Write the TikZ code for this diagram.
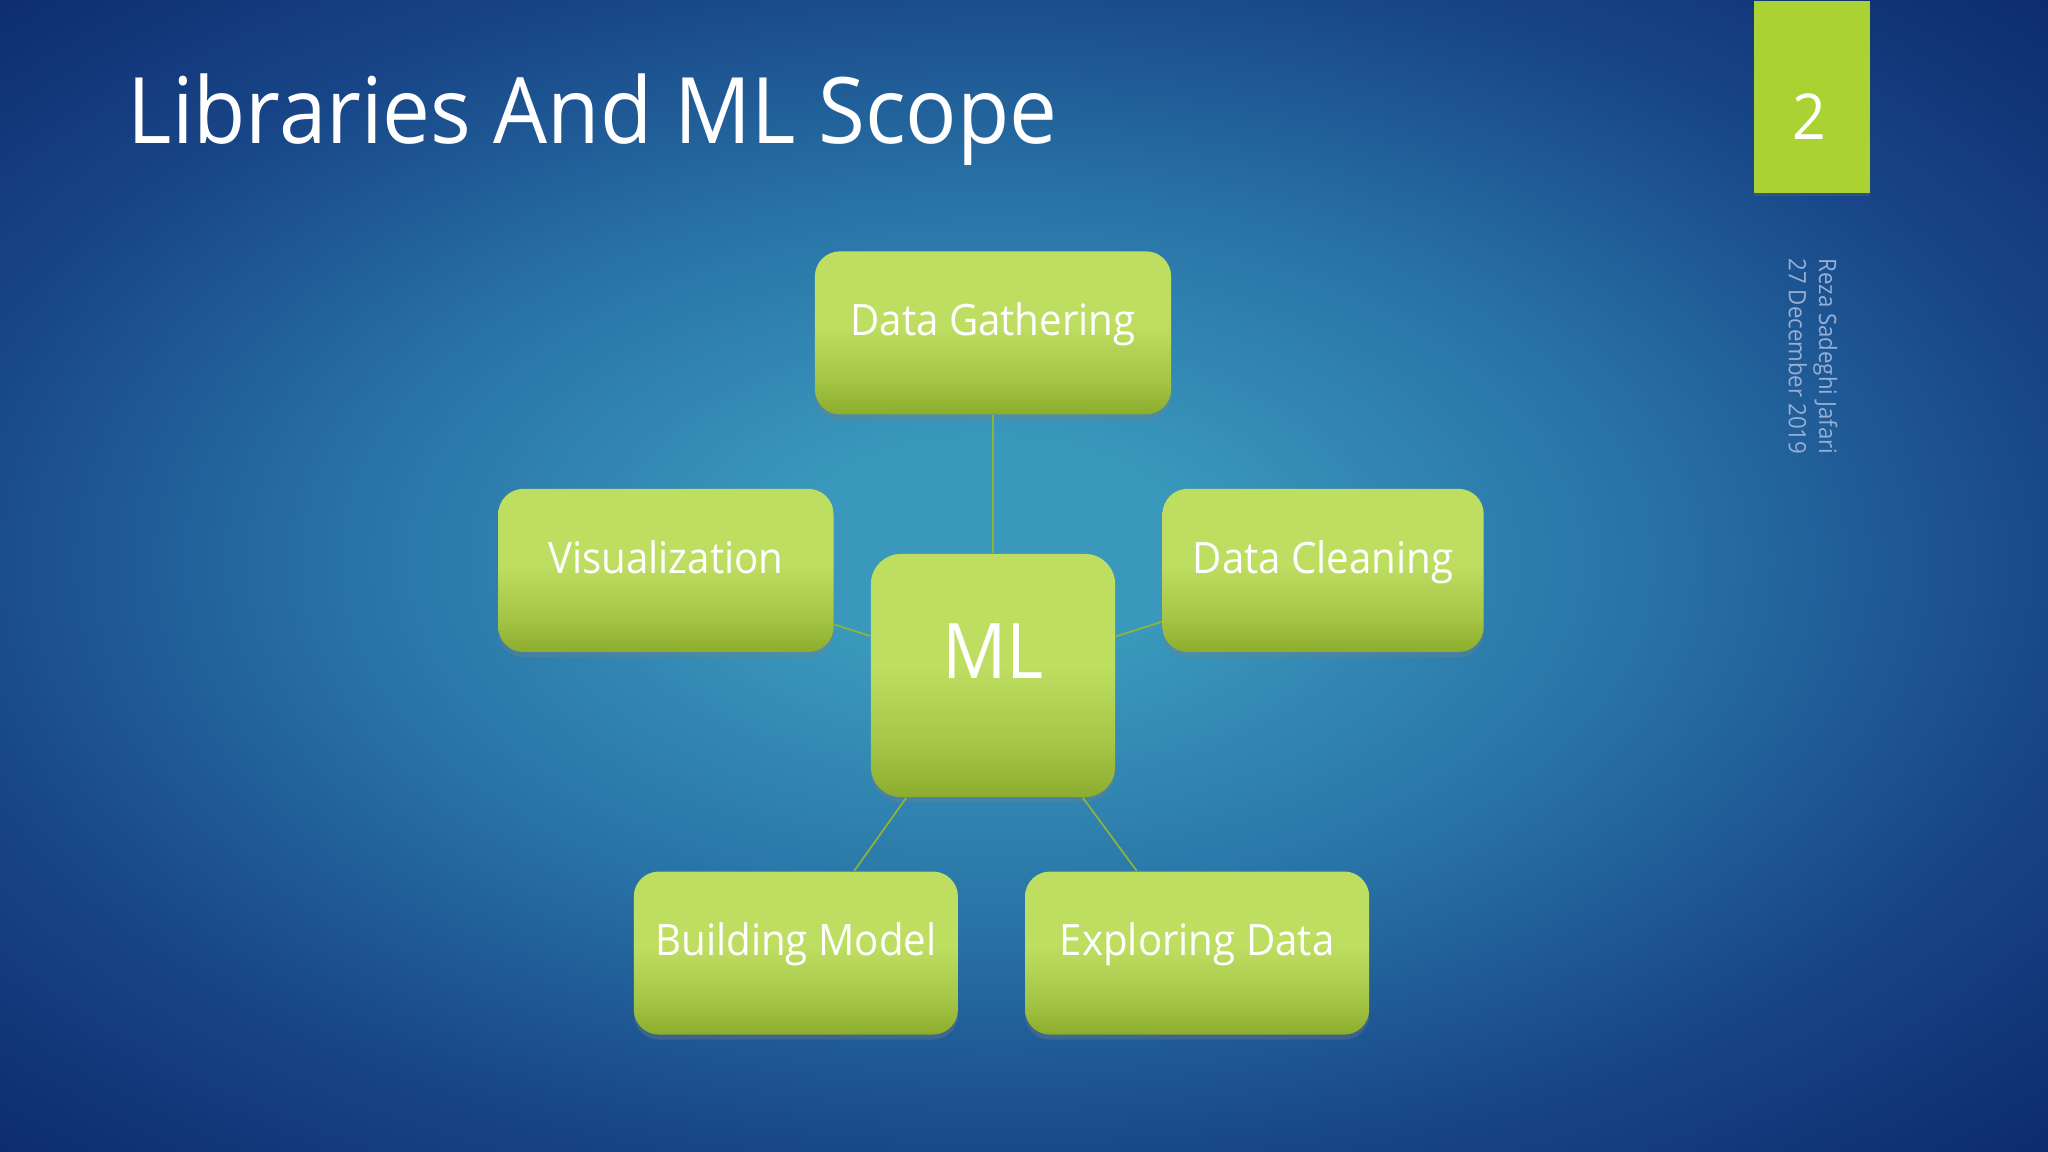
\documentclass[tikz,border=0pt]{standalone}
\usepackage{fontspec}
\setmainfont{Open Sans}[FakeStretch=0.93]
\usepackage{tikz}
\usetikzlibrary{positioning,shadows,calc}

\definecolor{bgin}{RGB}{58,152,188}
\definecolor{bgmid}{RGB}{40,114,166}
\definecolor{bgout}{RGB}{24,70,136}
\definecolor{bgcorner}{RGB}{12,42,108}
\definecolor{boxtop}{RGB}{190,222,98}
\definecolor{boxbot}{RGB}{140,173,44}
\colorlet{boxmid}{boxtop!50!boxbot}
\definecolor{boxline}{RGB}{140,180,55}
\definecolor{pagegreen}{RGB}{170,210,50}
\definecolor{footgray}{RGB}{150,175,215}

\pgfdeclareradialshading{slidebg}{\pgfpoint{-1bp}{1bp}}{color(0bp)=(bgin); color(5bp)=(bgin); color(16bp)=(bgmid); color(26bp)=(bgout); color(36bp)=(bgcorner); color(50bp)=(bgcorner)}
\pgfdeclareverticalshading{boxshade}{100bp}{color(0bp)=(boxbot); color(25bp)=(boxbot); color(36bp)=(boxmid); color(52bp)=(boxtop); color(75bp)=(boxtop); color(100bp)=(boxtop)}

\begin{document}
\begin{tikzpicture}[
      x=0.01cm, y=-0.01cm,
      scopebox/.style={
         rectangle,
         rounded corners=0.25cm,
         shading=boxshade,
         text=white,
         inner sep=0pt,
         minimum height=1.63cm,
         text height=0.7em,
         text depth=0.55em,
         font=\fontsize{12.3}{15}\selectfont,
         drop shadow={shadow xshift=0cm, shadow yshift=-0.05cm, opacity=0.3}},
      myline/.style={draw=boxline, line width=0.5pt}
      ]
      \useasboundingbox (0,0) rectangle (2048,1152);
      \shade[shading=slidebg] (0,0) rectangle (2048,1152);

      \node[anchor=base west, text=white, inner sep=0pt,
            font=\fontsize{26.1}{31}\selectfont] (title) at (127,144) {Libraries And ML Scope};

      % slide number and footer
      \node[fill=pagegreen, anchor=north west, inner sep=0pt,
            minimum width=1.16cm, minimum height=1.92cm,
            drop shadow={shadow xshift=0cm, shadow yshift=-0.03cm, opacity=0.2}] (pagebox) at (1753,0) {};
      \node[anchor=base, text=white, inner sep=0pt,
            font=\fontsize{18}{21}\selectfont] (pagenum) at (1809,140) {2};
      \node[rotate=-90, anchor=north west, align=left, text=footgray, inner sep=0pt,
            font=\fontsize{6.8}{8.6}\selectfont] (footer) at (1838,258) {Reza Sadeghi Jafari\\27 December 2019};

      \node[scopebox, minimum width=2.44cm, minimum height=2.43cm, rounded corners=0.3cm,
            font=\fontsize{21.8}{26}\selectfont] (ml) at (993,675.5) {ML};
      \node[scopebox, minimum width=3.56cm, above=1.38cm of ml] (gather) {Data Gathering};
      \node[scopebox, minimum width=3.35cm, left=0.36cm of ml, yshift=1.05cm] (visual) {Visualization};
      \node[scopebox, minimum width=3.21cm, right=0.46cm of ml, yshift=1.05cm] (clean) {Data Cleaning};
      \node[scopebox, minimum width=3.24cm, below=0.73cm of ml, xshift=-1.97cm] (build) {Building Model};
      \node[scopebox, minimum width=3.44cm, below=0.73cm of ml, xshift=2.04cm] (explore) {Exploring Data};

      \foreach \n in {gather,visual,clean,build,explore}
         \draw[myline] (ml) -- (\n);
    \end{tikzpicture}
\end{document}
